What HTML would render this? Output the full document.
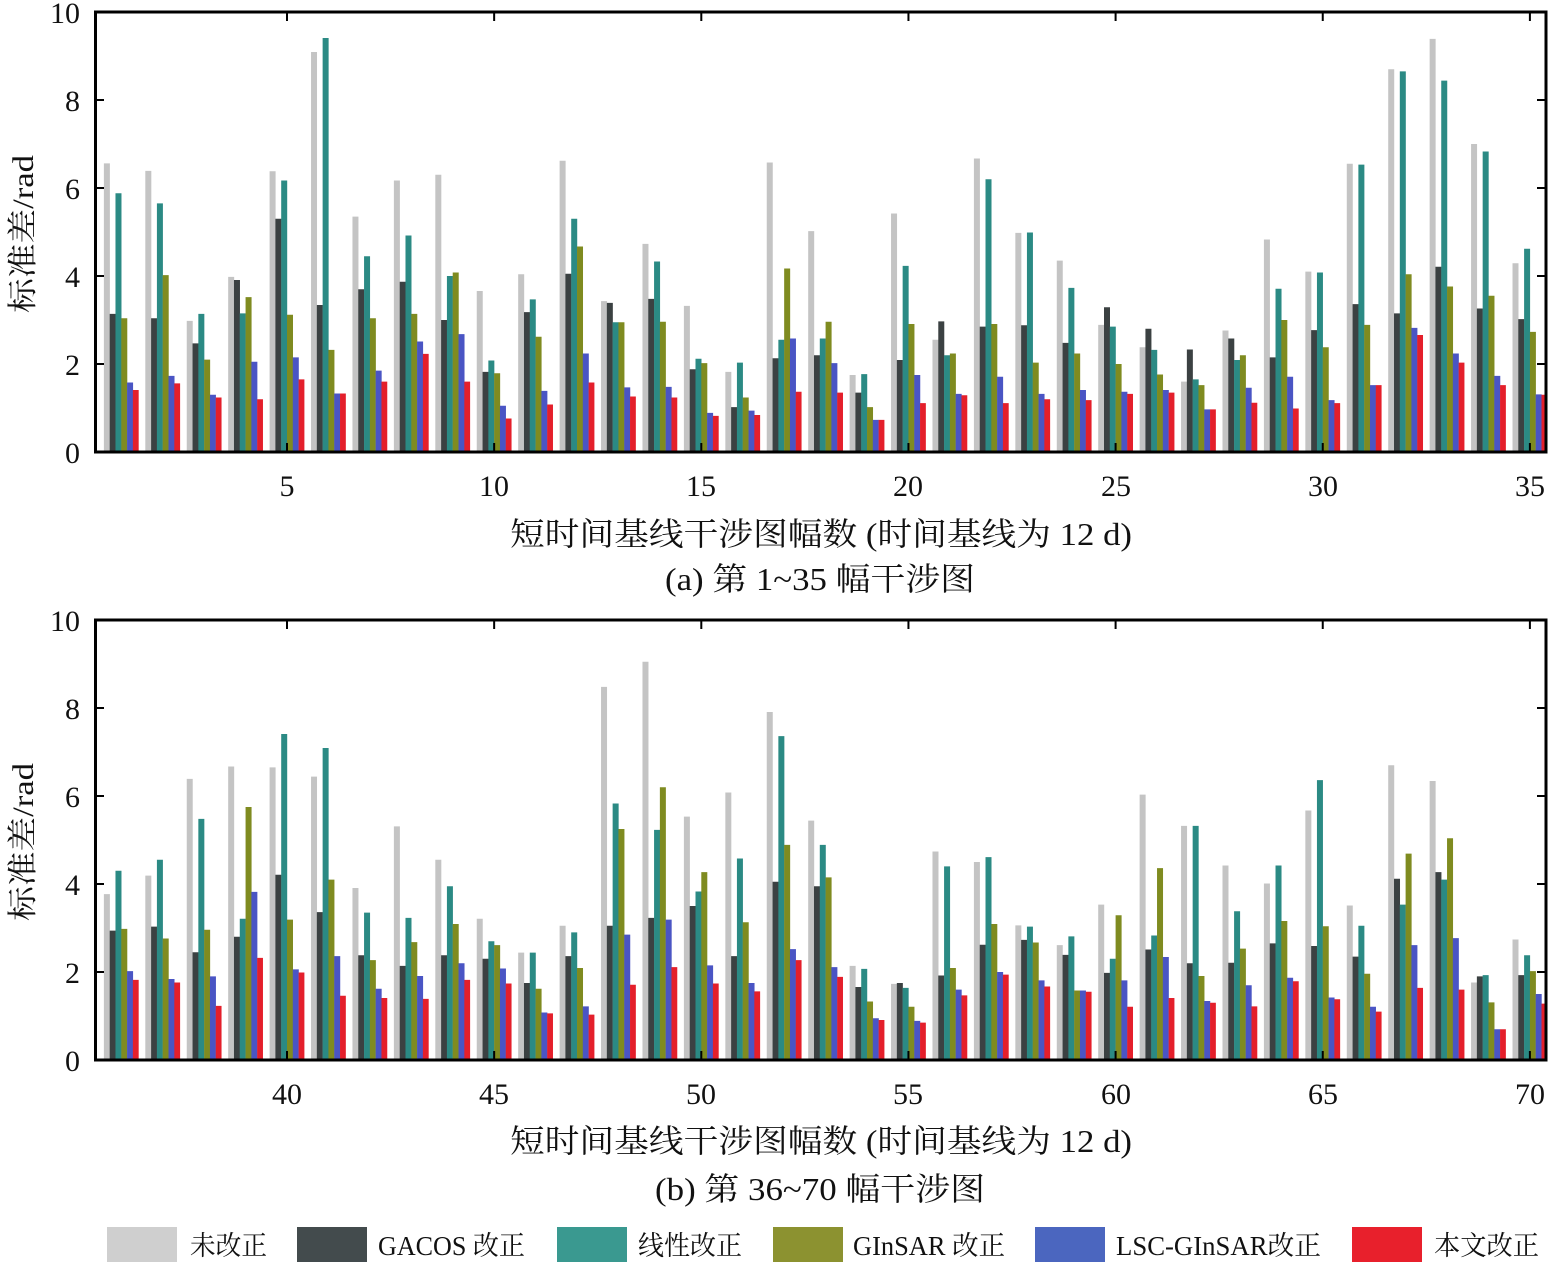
<!DOCTYPE html>
<html><head><meta charset="utf-8"><style>
html,body{margin:0;padding:0;background:#fff}
svg{display:block}
.t{font-family:"Liberation Serif","Noto Serif CJK SC",serif;fill:#111}
</style></head><body>
<svg width="1556" height="1267" viewBox="0 0 1556 1267" xmlns="http://www.w3.org/2000/svg">
<rect width="1556" height="1267" fill="#fff"/>

<!-- Panel A bars -->
<g transform="translate(0,452) scale(1,-44)">
<path fill="#c4c4c4" d="M103.88 0h6v6.56h-6zm41.43 0h6v6.39h-6zm41.43 0h6v2.98h-6zm41.43 0h6v3.98h-6zm41.43 0h6v6.38h-6zm41.43 0h6v9.09h-6zm41.43 0h6v5.35h-6zm41.43 0h6v6.17h-6zm41.43 0h6v6.30h-6zm41.43 0h6v3.66h-6zm41.43 0h6v4.04h-6zm41.43 0h6v6.62h-6zm41.43 0h6v3.43h-6zm41.43 0h6v4.73h-6zm41.43 0h6v3.32h-6zm41.43 0h6v1.82h-6zm41.43 0h6v6.58h-6zm41.43 0h6v5.02h-6zm41.43 0h6v1.75h-6zm41.43 0h6v5.42h-6zm41.43 0h6v2.55h-6zm41.43 0h6v6.67h-6zm41.43 0h6v4.98h-6zm41.43 0h6v4.35h-6zm41.43 0h6v2.89h-6zm41.43 0h6v2.38h-6zm41.43 0h6v1.60h-6zm41.43 0h6v2.76h-6zm41.43 0h6v4.83h-6zm41.43 0h6v4.10h-6zm41.43 0h6v6.55h-6zm41.43 0h6v8.70h-6zm41.43 0h6v9.39h-6zm41.43 0h6v7.00h-6zm41.43 0h6v4.29h-6z"/>
<path fill="#3b4142" d="M109.68 0h6v3.14h-6zm41.43 0h6v3.04h-6zm41.43 0h6v2.47h-6zm41.43 0h6v3.91h-6zm41.43 0h6v5.30h-6zm41.43 0h6v3.34h-6zm41.43 0h6v3.70h-6zm41.43 0h6v3.87h-6zm41.43 0h6v3.00h-6zm41.43 0h6v1.82h-6zm41.43 0h6v3.18h-6zm41.43 0h6v4.05h-6zm41.43 0h6v3.39h-6zm41.43 0h6v3.48h-6zm41.43 0h6v1.88h-6zm41.43 0h6v1.02h-6zm41.43 0h6v2.13h-6zm41.43 0h6v2.20h-6zm41.43 0h6v1.35h-6zm41.43 0h6v2.09h-6zm41.43 0h6v2.97h-6zm41.43 0h6v2.85h-6zm41.43 0h6v2.88h-6zm41.43 0h6v2.48h-6zm41.43 0h6v3.29h-6zm41.43 0h6v2.80h-6zm41.43 0h6v2.33h-6zm41.43 0h6v2.58h-6zm41.43 0h6v2.15h-6zm41.43 0h6v2.77h-6zm41.43 0h6v3.36h-6zm41.43 0h6v3.15h-6zm41.43 0h6v4.21h-6zm41.43 0h6v3.26h-6zm41.43 0h6v3.02h-6z"/>
<path fill="#2b8a84" d="M115.48 0h6v5.88h-6zm41.43 0h6v5.65h-6zm41.43 0h6v3.14h-6zm41.43 0h6v3.15h-6zm41.43 0h6v6.17h-6zm41.43 0h6v9.41h-6zm41.43 0h6v4.45h-6zm41.43 0h6v4.92h-6zm41.43 0h6v4.00h-6zm41.43 0h6v2.08h-6zm41.43 0h6v3.47h-6zm41.43 0h6v5.30h-6zm41.43 0h6v2.95h-6zm41.43 0h6v4.33h-6zm41.43 0h6v2.12h-6zm41.43 0h6v2.03h-6zm41.43 0h6v2.55h-6zm41.43 0h6v2.58h-6zm41.43 0h6v1.77h-6zm41.43 0h6v4.23h-6zm41.43 0h6v2.20h-6zm41.43 0h6v6.20h-6zm41.43 0h6v4.99h-6zm41.43 0h6v3.73h-6zm41.43 0h6v2.85h-6zm41.43 0h6v2.32h-6zm41.43 0h6v1.65h-6zm41.43 0h6v2.09h-6zm41.43 0h6v3.71h-6zm41.43 0h6v4.08h-6zm41.43 0h6v6.53h-6zm41.43 0h6v8.65h-6zm41.43 0h6v8.44h-6zm41.43 0h6v6.83h-6zm41.43 0h6v4.62h-6z"/>
<path fill="#7f8b20" d="M121.28 0h6v3.04h-6zm41.43 0h6v4.02h-6zm41.43 0h6v2.10h-6zm41.43 0h6v3.52h-6zm41.43 0h6v3.12h-6zm41.43 0h6v2.32h-6zm41.43 0h6v3.04h-6zm41.43 0h6v3.14h-6zm41.43 0h6v4.08h-6zm41.43 0h6v1.79h-6zm41.43 0h6v2.62h-6zm41.43 0h6v4.67h-6zm41.43 0h6v2.95h-6zm41.43 0h6v2.96h-6zm41.43 0h6v2.02h-6zm41.43 0h6v1.24h-6zm41.43 0h6v4.17h-6zm41.43 0h6v2.96h-6zm41.43 0h6v1.02h-6zm41.43 0h6v2.91h-6zm41.43 0h6v2.24h-6zm41.43 0h6v2.91h-6zm41.43 0h6v2.03h-6zm41.43 0h6v2.24h-6zm41.43 0h6v2.00h-6zm41.43 0h6v1.76h-6zm41.43 0h6v1.52h-6zm41.43 0h6v2.20h-6zm41.43 0h6v3.00h-6zm41.43 0h6v2.38h-6zm41.43 0h6v2.89h-6zm41.43 0h6v4.04h-6zm41.43 0h6v3.76h-6zm41.43 0h6v3.55h-6zm41.43 0h6v2.73h-6z"/>
<path fill="#4a55c4" d="M127.08 0h6v1.58h-6zm41.43 0h6v1.73h-6zm41.43 0h6v1.30h-6zm41.43 0h6v2.05h-6zm41.43 0h6v2.15h-6zm41.43 0h6v1.33h-6zm41.43 0h6v1.85h-6zm41.43 0h6v2.51h-6zm41.43 0h6v2.68h-6zm41.43 0h6v1.05h-6zm41.43 0h6v1.39h-6zm41.43 0h6v2.24h-6zm41.43 0h6v1.47h-6zm41.43 0h6v1.48h-6zm41.43 0h6v0.89h-6zm41.43 0h6v0.94h-6zm41.43 0h6v2.58h-6zm41.43 0h6v2.02h-6zm41.43 0h6v0.73h-6zm41.43 0h6v1.75h-6zm41.43 0h6v1.32h-6zm41.43 0h6v1.71h-6zm41.43 0h6v1.32h-6zm41.43 0h6v1.41h-6zm41.43 0h6v1.37h-6zm41.43 0h6v1.41h-6zm41.43 0h6v0.97h-6zm41.43 0h6v1.46h-6zm41.43 0h6v1.71h-6zm41.43 0h6v1.18h-6zm41.43 0h6v1.52h-6zm41.43 0h6v2.82h-6zm41.43 0h6v2.24h-6zm41.43 0h6v1.73h-6zm41.43 0h6v1.31h-6z"/>
<path fill="#e41f2b" d="M132.88 0h5.8v1.41h-5.8zm41.43 0h5.8v1.56h-5.8zm41.43 0h5.8v1.24h-5.8zm41.43 0h5.8v1.20h-5.8zm41.43 0h5.8v1.65h-5.8zm41.43 0h5.8v1.33h-5.8zm41.43 0h5.8v1.60h-5.8zm41.43 0h5.8v2.23h-5.8zm41.43 0h5.8v1.60h-5.8zm41.43 0h5.8v0.76h-5.8zm41.43 0h5.8v1.08h-5.8zm41.43 0h5.8v1.58h-5.8zm41.43 0h5.8v1.26h-5.8zm41.43 0h5.8v1.24h-5.8zm41.43 0h5.8v0.82h-5.8zm41.43 0h5.8v0.84h-5.8zm41.43 0h5.8v1.37h-5.8zm41.43 0h5.8v1.35h-5.8zm41.43 0h5.8v0.73h-5.8zm41.43 0h5.8v1.11h-5.8zm41.43 0h5.8v1.29h-5.8zm41.43 0h5.8v1.11h-5.8zm41.43 0h5.8v1.20h-5.8zm41.43 0h5.8v1.18h-5.8zm41.43 0h5.8v1.32h-5.8zm41.43 0h5.8v1.35h-5.8zm41.43 0h5.8v0.97h-5.8zm41.43 0h5.8v1.12h-5.8zm41.43 0h5.8v0.99h-5.8zm41.43 0h5.8v1.11h-5.8zm41.43 0h5.8v1.52h-5.8zm41.43 0h5.8v2.66h-5.8zm41.43 0h5.8v2.03h-5.8zm41.43 0h5.8v1.52h-5.8zm41.43 0h5.8v1.30h-5.8z"/>
</g>

<!-- Panel B bars -->
<g transform="translate(0,1060) scale(1,-44)">
<path fill="#c4c4c4" d="M103.88 0h6v3.77h-6zm41.43 0h6v4.19h-6zm41.43 0h6v6.39h-6zm41.43 0h6v6.67h-6zm41.43 0h6v6.65h-6zm41.43 0h6v6.44h-6zm41.43 0h6v3.91h-6zm41.43 0h6v5.31h-6zm41.43 0h6v4.55h-6zm41.43 0h6v3.21h-6zm41.43 0h6v2.44h-6zm41.43 0h6v3.05h-6zm41.43 0h6v8.48h-6zm41.43 0h6v9.05h-6zm41.43 0h6v5.53h-6zm41.43 0h6v6.08h-6zm41.43 0h6v7.91h-6zm41.43 0h6v5.44h-6zm41.43 0h6v2.14h-6zm41.43 0h6v1.73h-6zm41.43 0h6v4.74h-6zm41.43 0h6v4.50h-6zm41.43 0h6v3.06h-6zm41.43 0h6v2.61h-6zm41.43 0h6v3.53h-6zm41.43 0h6v6.03h-6zm41.43 0h6v5.32h-6zm41.43 0h6v4.42h-6zm41.43 0h6v4.01h-6zm41.43 0h6v5.67h-6zm41.43 0h6v3.51h-6zm41.43 0h6v6.70h-6zm41.43 0h6v6.34h-6zm41.43 0h6v1.76h-6zm41.43 0h6v2.74h-6z"/>
<path fill="#3b4142" d="M109.68 0h6v2.94h-6zm41.43 0h6v3.03h-6zm41.43 0h6v2.45h-6zm41.43 0h6v2.80h-6zm41.43 0h6v4.21h-6zm41.43 0h6v3.36h-6zm41.43 0h6v2.38h-6zm41.43 0h6v2.14h-6zm41.43 0h6v2.38h-6zm41.43 0h6v2.30h-6zm41.43 0h6v1.75h-6zm41.43 0h6v2.36h-6zm41.43 0h6v3.05h-6zm41.43 0h6v3.23h-6zm41.43 0h6v3.50h-6zm41.43 0h6v2.36h-6zm41.43 0h6v4.05h-6zm41.43 0h6v3.95h-6zm41.43 0h6v1.66h-6zm41.43 0h6v1.75h-6zm41.43 0h6v1.92h-6zm41.43 0h6v2.62h-6zm41.43 0h6v2.73h-6zm41.43 0h6v2.39h-6zm41.43 0h6v1.98h-6zm41.43 0h6v2.51h-6zm41.43 0h6v2.20h-6zm41.43 0h6v2.21h-6zm41.43 0h6v2.65h-6zm41.43 0h6v2.59h-6zm41.43 0h6v2.35h-6zm41.43 0h6v4.12h-6zm41.43 0h6v4.27h-6zm41.43 0h6v1.90h-6zm41.43 0h6v1.93h-6z"/>
<path fill="#2b8a84" d="M115.48 0h6v4.30h-6zm41.43 0h6v4.55h-6zm41.43 0h6v5.48h-6zm41.43 0h6v3.21h-6zm41.43 0h6v7.41h-6zm41.43 0h6v7.09h-6zm41.43 0h6v3.35h-6zm41.43 0h6v3.23h-6zm41.43 0h6v3.95h-6zm41.43 0h6v2.70h-6zm41.43 0h6v2.44h-6zm41.43 0h6v2.90h-6zm41.43 0h6v5.83h-6zm41.43 0h6v5.23h-6zm41.43 0h6v3.83h-6zm41.43 0h6v4.58h-6zm41.43 0h6v7.36h-6zm41.43 0h6v4.89h-6zm41.43 0h6v2.07h-6zm41.43 0h6v1.64h-6zm41.43 0h6v4.40h-6zm41.43 0h6v4.61h-6zm41.43 0h6v3.03h-6zm41.43 0h6v2.81h-6zm41.43 0h6v2.30h-6zm41.43 0h6v2.83h-6zm41.43 0h6v5.32h-6zm41.43 0h6v3.38h-6zm41.43 0h6v4.42h-6zm41.43 0h6v6.36h-6zm41.43 0h6v3.05h-6zm41.43 0h6v3.53h-6zm41.43 0h6v4.10h-6zm41.43 0h6v1.93h-6zm41.43 0h6v2.38h-6z"/>
<path fill="#7f8b20" d="M121.28 0h6v2.98h-6zm41.43 0h6v2.76h-6zm41.43 0h6v2.96h-6zm41.43 0h6v5.75h-6zm41.43 0h6v3.19h-6zm41.43 0h6v4.10h-6zm41.43 0h6v2.27h-6zm41.43 0h6v2.68h-6zm41.43 0h6v3.09h-6zm41.43 0h6v2.61h-6zm41.43 0h6v1.62h-6zm41.43 0h6v2.09h-6zm41.43 0h6v5.25h-6zm41.43 0h6v6.20h-6zm41.43 0h6v4.27h-6zm41.43 0h6v3.13h-6zm41.43 0h6v4.89h-6zm41.43 0h6v4.15h-6zm41.43 0h6v1.33h-6zm41.43 0h6v1.21h-6zm41.43 0h6v2.09h-6zm41.43 0h6v3.09h-6zm41.43 0h6v2.67h-6zm41.43 0h6v1.58h-6zm41.43 0h6v3.29h-6zm41.43 0h6v4.36h-6zm41.43 0h6v1.91h-6zm41.43 0h6v2.53h-6zm41.43 0h6v3.16h-6zm41.43 0h6v3.04h-6zm41.43 0h6v1.96h-6zm41.43 0h6v4.69h-6zm41.43 0h6v5.04h-6zm41.43 0h6v1.31h-6zm41.43 0h6v2.02h-6z"/>
<path fill="#4a55c4" d="M127.08 0h6v2.02h-6zm41.43 0h6v1.84h-6zm41.43 0h6v1.90h-6zm41.43 0h6v3.82h-6zm41.43 0h6v2.06h-6zm41.43 0h6v2.36h-6zm41.43 0h6v1.62h-6zm41.43 0h6v1.91h-6zm41.43 0h6v2.20h-6zm41.43 0h6v2.08h-6zm41.43 0h6v1.08h-6zm41.43 0h6v1.22h-6zm41.43 0h6v2.85h-6zm41.43 0h6v3.19h-6zm41.43 0h6v2.15h-6zm41.43 0h6v1.75h-6zm41.43 0h6v2.52h-6zm41.43 0h6v2.11h-6zm41.43 0h6v0.95h-6zm41.43 0h6v0.89h-6zm41.43 0h6v1.60h-6zm41.43 0h6v2.00h-6zm41.43 0h6v1.81h-6zm41.43 0h6v1.58h-6zm41.43 0h6v1.81h-6zm41.43 0h6v2.34h-6zm41.43 0h6v1.34h-6zm41.43 0h6v1.70h-6zm41.43 0h6v1.87h-6zm41.43 0h6v1.42h-6zm41.43 0h6v1.21h-6zm41.43 0h6v2.61h-6zm41.43 0h6v2.77h-6zm41.43 0h6v0.70h-6zm41.43 0h6v1.50h-6z"/>
<path fill="#e41f2b" d="M132.88 0h5.8v1.82h-5.8zm41.43 0h5.8v1.76h-5.8zm41.43 0h5.8v1.23h-5.8zm41.43 0h5.8v2.32h-5.8zm41.43 0h5.8v1.99h-5.8zm41.43 0h5.8v1.46h-5.8zm41.43 0h5.8v1.41h-5.8zm41.43 0h5.8v1.39h-5.8zm41.43 0h5.8v1.82h-5.8zm41.43 0h5.8v1.74h-5.8zm41.43 0h5.8v1.06h-5.8zm41.43 0h5.8v1.03h-5.8zm41.43 0h5.8v1.71h-5.8zm41.43 0h5.8v2.11h-5.8zm41.43 0h5.8v1.74h-5.8zm41.43 0h5.8v1.56h-5.8zm41.43 0h5.8v2.27h-5.8zm41.43 0h5.8v1.89h-5.8zm41.43 0h5.8v0.91h-5.8zm41.43 0h5.8v0.85h-5.8zm41.43 0h5.8v1.47h-5.8zm41.43 0h5.8v1.94h-5.8zm41.43 0h5.8v1.67h-5.8zm41.43 0h5.8v1.55h-5.8zm41.43 0h5.8v1.21h-5.8zm41.43 0h5.8v1.41h-5.8zm41.43 0h5.8v1.30h-5.8zm41.43 0h5.8v1.22h-5.8zm41.43 0h5.8v1.79h-5.8zm41.43 0h5.8v1.38h-5.8zm41.43 0h5.8v1.10h-5.8zm41.43 0h5.8v1.64h-5.8zm41.43 0h5.8v1.60h-5.8zm41.43 0h5.8v0.70h-5.8zm41.43 0h5.8v1.28h-5.8z"/>
</g>

<!-- Frames and ticks -->
<g fill="none" stroke="#000">
<rect x="95.5" y="12" width="1450.5" height="440" stroke-width="3"/>
<rect x="95.5" y="620" width="1450.5" height="440" stroke-width="3"/>
<path stroke-width="2" d="M95 364h9M95 276h9M95 188h9M95 100h9M1546 364h-9M1546 276h-9M1546 188h-9M1546 100h-9
M287 12v9M494.15 12v9M701.3 12v9M908.45 12v9M1115.6 12v9M1322.75 12v9M1529.9 12v9
M287 452v-9M494.15 452v-9M701.3 452v-9M908.45 452v-9M1115.6 452v-9M1322.75 452v-9M1529.9 452v-9"/>
<path stroke-width="2" d="M95 972h9M95 884h9M95 796h9M95 708h9M1546 972h-9M1546 884h-9M1546 796h-9M1546 708h-9
M287 620v9M494.15 620v9M701.3 620v9M908.45 620v9M1115.6 620v9M1322.75 620v9M1529.9 620v9
M287 1060v-9M494.15 1060v-9M701.3 1060v-9M908.45 1060v-9M1115.6 1060v-9M1322.75 1060v-9M1529.9 1060v-9"/>
</g>

<!-- Panel A labels -->
<g class="t" font-size="30">
<text x="80" y="23" text-anchor="end">10</text>
<text x="80" y="111" text-anchor="end">8</text>
<text x="80" y="199" text-anchor="end">6</text>
<text x="80" y="287" text-anchor="end">4</text>
<text x="80" y="375" text-anchor="end">2</text>
<text x="80" y="463" text-anchor="end">0</text>
<text x="287" y="496" text-anchor="middle">5</text>
<text x="494" y="496" text-anchor="middle">10</text>
<text x="701" y="496" text-anchor="middle">15</text>
<text x="908" y="496" text-anchor="middle">20</text>
<text x="1116" y="496" text-anchor="middle">25</text>
<text x="1323" y="496" text-anchor="middle">30</text>
<text x="1530" y="496" text-anchor="middle">35</text>

<text x="80" y="631" text-anchor="end">10</text>
<text x="80" y="719" text-anchor="end">8</text>
<text x="80" y="807" text-anchor="end">6</text>
<text x="80" y="895" text-anchor="end">4</text>
<text x="80" y="983" text-anchor="end">2</text>
<text x="80" y="1071" text-anchor="end">0</text>
<text x="287" y="1104" text-anchor="middle">40</text>
<text x="494" y="1104" text-anchor="middle">45</text>
<text x="701" y="1104" text-anchor="middle">50</text>
<text x="908" y="1104" text-anchor="middle">55</text>
<text x="1116" y="1104" text-anchor="middle">60</text>
<text x="1323" y="1104" text-anchor="middle">65</text>
<text x="1530" y="1104" text-anchor="middle">70</text>
</g>

<g class="t" font-size="30">
<text transform="translate(33,234) rotate(-90)" text-anchor="middle" textLength="158" lengthAdjust="spacingAndGlyphs">标准差/rad</text>
<text transform="translate(33,842) rotate(-90)" text-anchor="middle" textLength="158" lengthAdjust="spacingAndGlyphs">标准差/rad</text>
</g>

<g class="t" font-size="32">
<text x="510" y="545" textLength="622" lengthAdjust="spacingAndGlyphs">短时间基线干涉图幅数 (时间基线为 12 d)</text>
<text x="665" y="590" textLength="310" lengthAdjust="spacingAndGlyphs">(a) 第 1~35 幅干涉图</text>
<text x="510" y="1152" textLength="622" lengthAdjust="spacingAndGlyphs">短时间基线干涉图幅数 (时间基线为 12 d)</text>
<text x="655" y="1200" textLength="330" lengthAdjust="spacingAndGlyphs">(b) 第 36~70 幅干涉图</text>
</g>

<!-- Legend -->
<rect x="107" y="1227" width="70" height="35" fill="#cfcfcf"/>
<rect x="297" y="1227" width="70" height="35" fill="#434b4d"/>
<rect x="557" y="1227" width="70" height="35" fill="#3a9990"/>
<rect x="773" y="1227" width="70" height="35" fill="#8c9230"/>
<rect x="1035" y="1227" width="70" height="35" fill="#4b66bf"/>
<rect x="1352" y="1227" width="70" height="35" fill="#e8202c"/>
<g class="t" font-size="27">
<text x="190" y="1255" textLength="77" lengthAdjust="spacingAndGlyphs">未改正</text>
<text x="378" y="1255" textLength="147" lengthAdjust="spacingAndGlyphs">GACOS 改正</text>
<text x="638" y="1255" textLength="104" lengthAdjust="spacingAndGlyphs">线性改正</text>
<text x="853" y="1255" textLength="152" lengthAdjust="spacingAndGlyphs">GInSAR 改正</text>
<text x="1116" y="1255" textLength="205" lengthAdjust="spacingAndGlyphs">LSC-GInSAR改正</text>
<text x="1434" y="1255" textLength="105" lengthAdjust="spacingAndGlyphs">本文改正</text>
</g>
</svg>
</body></html>
